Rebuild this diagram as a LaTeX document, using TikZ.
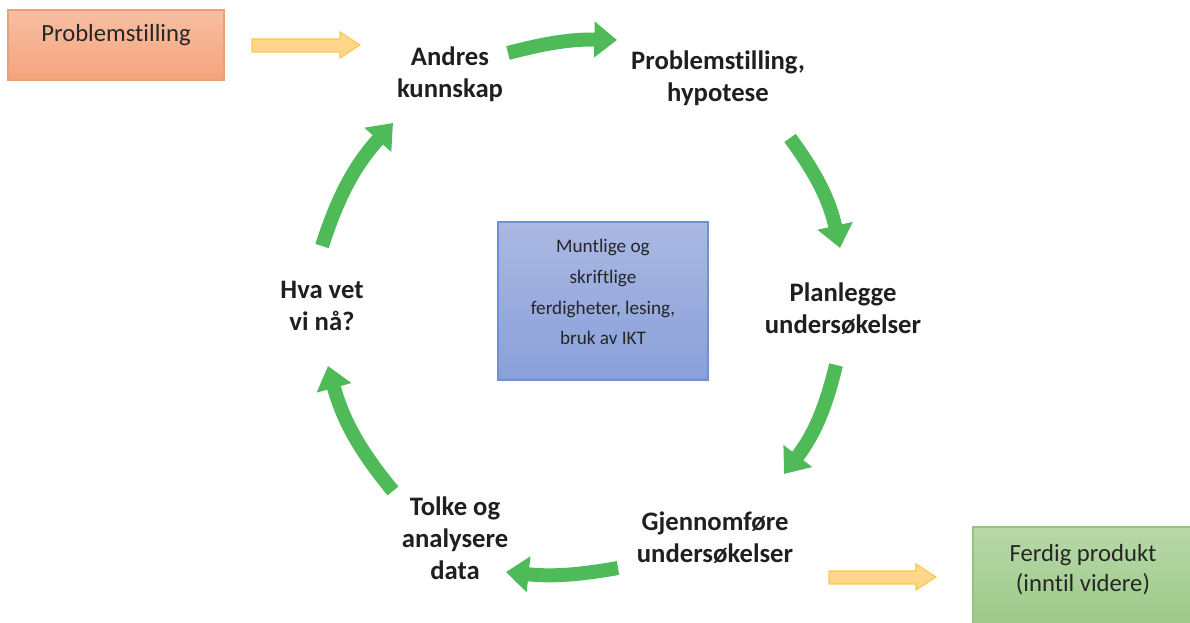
\documentclass[tikz,border=0pt]{standalone}
\usepackage{fontspec}
\setmainfont{Carlito}[Ligatures=NoCommon]
\usetikzlibrary{arrows.meta}

\definecolor{cycgreen}{RGB}{78,186,88}
\definecolor{yfill}{RGB}{255,214,138}
\definecolor{yline}{RGB}{249,200,80}

\tikzset{
  stage/.style={font=\bfseries\fontsize{20}{24}\selectfont, align=center, text=black!88},
  boxtext/.style={font=\fontsize{18.5}{22.5}\selectfont, align=center, text=black!85},
  cyc/.style={draw=cycgreen, line width=10.5pt, -{Triangle[length=17pt,width=26pt]}},
  yarrow/.style={fill=yfill, draw=yline, line width=0.8pt, line join=miter}
}

\begin{document}
\begin{tikzpicture}[x=0.75pt,y=-0.75pt]
\useasboundingbox (0,0) rectangle (1190,623);

% start and end boxes
\draw[draw={rgb,255:red,237;green,160;blue,118}, line width=0.8pt,
      top color={rgb,255:red,248;green,190;blue,162}, bottom color={rgb,255:red,244;green,164;blue,124}]
  (8,10) rectangle (224,80);
\node[boxtext] (start) at (116,35) {Problemstilling};

\draw[draw={rgb,255:red,150;green,196;blue,126}, line width=0.8pt,
      top color={rgb,255:red,184;green,216;blue,168}, bottom color={rgb,255:red,156;green,201;blue,136}]
  (973,527) rectangle (1194,627);
\node[boxtext] (slutt) at (1083,570) {Ferdig produkt\\(inntil videre)};

% middle box
\draw[draw={rgb,255:red,112;green,144;blue,212}, line width=0.8pt,
      top color={rgb,255:red,170;green,184;blue,226}, bottom color={rgb,255:red,138;green,160;blue,218}]
  (498,222) rectangle (708,380);
\node[boxtext, font=\fontsize{14.4}{23.2}\selectfont] (midt) at (603,292)
  {Muntlige og\\skriftlige\\ferdigheter, lesing,\\bruk av IKT};

% yellow arrows
\draw[yarrow] (252,39) -- (340,39) -- (340,32) -- (360,45) -- (340,58) -- (340,52) -- (252,52) -- cycle;
\draw[yarrow] (829,571) -- (916,571) -- (916,564) -- (936,577) -- (916,590) -- (916,584) -- (829,584) -- cycle;

% stages of the cycle
\node[stage] (andres) at (450,74) {Andres\\kunnskap};
\node[stage] (hypo) at (718,78) {Problemstilling,\\hypotese};
\node[stage] (plan) at (843,309) {Planlegge\\undersøkelser};
\node[stage] (gjen) at (715,538) {Gjennomføre\\undersøkelser};
\node[stage] (tolke) at (455,538) {Tolke og\\analysere\\data};
\node[stage] (hva) at (322,306) {Hva vet\\vi nå?};

% ends of the green arrows
\coordinate (a1) at (508,53);  \coordinate (b1) at (617,40);
\coordinate (a2) at (790,138); \coordinate (b2) at (840,248);
\coordinate (a3) at (836,365); \coordinate (b3) at (784,474);
\coordinate (a4) at (618,568); \coordinate (b4) at (506,572);
\coordinate (a5) at (393,491); \coordinate (b5) at (328,366);
\coordinate (a6) at (322,246); \coordinate (b6) at (393,123);

\draw[cyc] (a1) to[bend left=8] (b1);
\draw[cyc] (a2) to[bend left=12] (b2);
\draw[cyc] (a3) to[bend left=12] (b3);
\draw[cyc] (a4) to[bend left=8] (b4);
\draw[cyc] (a5) to[bend left=12] (b5);
\draw[cyc] (a6) to[bend left=12] (b6);
\end{tikzpicture}
\end{document}
